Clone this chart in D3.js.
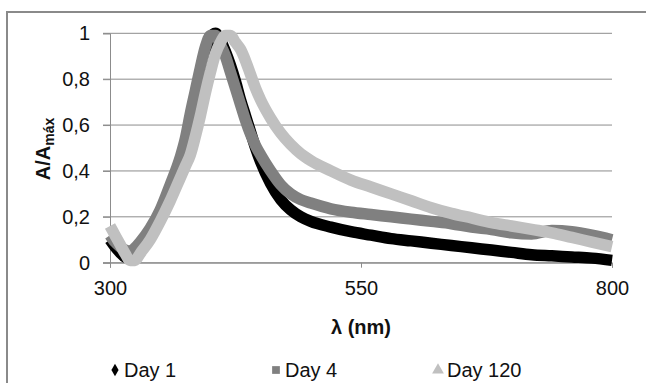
<!DOCTYPE html>
<html><head><meta charset="utf-8">
<script src="https://cdn.jsdelivr.net/npm/d3@7"></script>
<style>
body{margin:0;background:#fff}
svg{display:block}
text{font-family:"Liberation Sans",Arial,sans-serif;fill:#111}
</style>
</head><body><svg id="c" width="646" height="383"></svg>
<script>
const wavelength = [300,305,310,315,320,325,330,340,350,360,370,375,380,385,390,395,400,405,410,415,420,425,430,435,440,445,450,460,470,480,490,500,520,540,560,580,600,620,640,660,680,700,720,740,760,780,800];
const day1   = [0.10,0.07,0.045,0.025,0.02,0.035,0.06,0.13,0.21,0.32,0.44,0.52,0.62,0.72,0.83,0.92,0.98,1.0,0.97,0.92,0.86,0.79,0.71,0.64,0.57,0.50,0.44,0.345,0.275,0.23,0.20,0.18,0.155,0.135,0.12,0.105,0.095,0.085,0.075,0.065,0.055,0.045,0.035,0.03,0.025,0.02,0.01];
const day4   = [0.12,0.09,0.07,0.055,0.05,0.065,0.09,0.15,0.23,0.34,0.46,0.54,0.65,0.75,0.85,0.94,0.99,0.99,0.95,0.90,0.83,0.76,0.69,0.62,0.56,0.51,0.47,0.40,0.34,0.30,0.275,0.26,0.235,0.22,0.21,0.20,0.19,0.18,0.17,0.155,0.145,0.13,0.125,0.14,0.135,0.12,0.10];
const day120 = [0.16,0.12,0.08,0.04,0.01,0.01,0.04,0.10,0.18,0.27,0.37,0.42,0.47,0.55,0.64,0.74,0.83,0.91,0.96,0.99,0.99,0.96,0.93,0.88,0.82,0.76,0.71,0.63,0.565,0.515,0.475,0.445,0.40,0.36,0.33,0.30,0.27,0.24,0.215,0.195,0.175,0.16,0.145,0.13,0.11,0.09,0.07];
const seriesNames = ["Day 1","Day 4","Day 120"];
const seriesColors = ["#000000","#808080","#c0c0c0"];
const xTicks = [300,550,800];
const yTicks = [0,0.2,0.4,0.6,0.8,1];
const yTickLabels = ["0","0,2","0,4","0,6","0,8","1"];

const svg = d3.select("#c");
const L=110, R=612, T=33.3, B=262.7;
const x = d3.scaleLinear().domain([300,800]).range([L,R]);
const y = d3.scaleLinear().domain([0,1]).range([B,T]);

// outer chart border
svg.append("rect").attr("x",7).attr("y",12).attr("width",720).attr("height",420)
  .attr("fill","none").attr("stroke","#8a8a8a").attr("stroke-width",2);

// gridlines
svg.append("g").selectAll("line").data(yTicks).join("line")
  .attr("x1",L-7).attr("x2",R).attr("y1",d=>y(d)).attr("y2",d=>y(d))
  .attr("stroke","#8c8c8c").attr("stroke-width",1);

// y axis
const ya = svg.append("g").attr("transform",`translate(${L},0)`)
  .call(d3.axisLeft(y).tickValues(yTicks).tickFormat((d,i)=>yTickLabels[i]).tickSize(7).tickPadding(13));
ya.select(".domain").attr("stroke","#8c8c8c");
ya.selectAll(".tick line").attr("stroke","#8c8c8c");
ya.selectAll("text").attr("font-size",20).attr("font-family","Liberation Sans, Arial, sans-serif").attr("fill","#111");

// x axis
const xa = svg.append("g").attr("transform",`translate(0,${B})`)
  .call(d3.axisBottom(x).tickValues(xTicks).tickFormat(d3.format("d")).tickSize(5).tickPadding(13));
xa.select(".domain").attr("stroke","#8c8c8c");
xa.selectAll(".tick line").attr("stroke","#8c8c8c");
xa.selectAll("text").attr("font-size",20).attr("font-family","Liberation Sans, Arial, sans-serif").attr("fill","#111");

// series
const series = [day1, day4, day120];
const line = d3.line().x((d,i)=>x(wavelength[i])).y(d=>y(d)).curve(d3.curveMonotoneX);
series.forEach((s,k)=>{
  svg.append("path").datum(s).attr("d",line)
    .attr("fill","none").attr("stroke",seriesColors[k]).attr("stroke-width",11.5)
    .attr("stroke-linejoin","round");
});

// axis titles
svg.append("text").attr("x",(L+R)/2).attr("y",334).attr("text-anchor","middle")
  .attr("font-size",20).attr("font-weight","bold").text("λ (nm)");
const yt = svg.append("text").attr("transform","translate(50,149) rotate(-90)")
  .attr("text-anchor","middle").attr("font-size",20).attr("font-weight","bold");
yt.append("tspan").text("A/A");
yt.append("tspan").attr("font-size",14).attr("dy",4).text("máx");

// legend
const legX = [115,276,438];
const lg = svg.append("g");
seriesNames.forEach((n,k)=>{
  const cx = legX[k], cy = 370;
  const sym = [d3.symbolDiamond,d3.symbolSquare,d3.symbolTriangle][k];
  const size = [45,60,60][k];
  lg.append("path").attr("d",d3.symbol().type(sym).size(size)())
    .attr("transform",`translate(${cx},${cy})`).attr("fill",seriesColors[k]);
  lg.append("text").attr("x",cx+9).attr("y",377).attr("font-size",20).text(n);
});
</script></body></html>
